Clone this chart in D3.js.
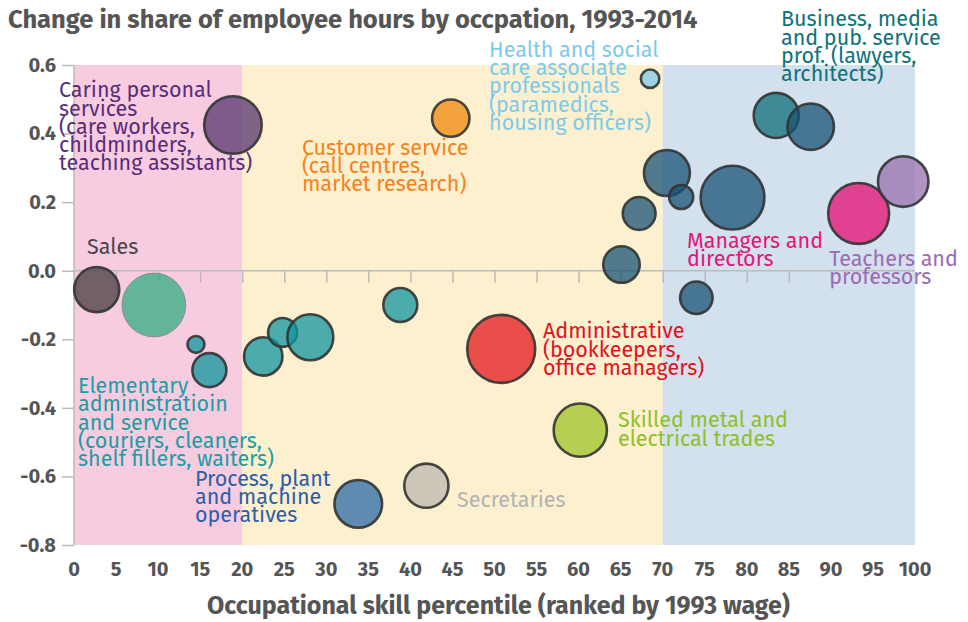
<!DOCTYPE html>
<html>
<head>
<meta charset="utf-8">
<script src="https://cdn.jsdelivr.net/npm/d3@7"></script>
<style>
  html, body { margin: 0; padding: 0; background: #fff; }
  svg { display: block; font-family: "Fira Sans", "Open Sans", sans-serif; }
</style>
</head>
<body>
<svg id="chart" width="968" height="622"></svg>
<script>
// ---- Data ----
const titleText = "Change in share of employee hours by occpation, 1993-2014";
const xAxisTitle = "Occupational skill percentile (ranked by 1993 wage)";
const xTicks = [0, 5, 10, 15, 20, 25, 30, 35, 40, 45, 50, 55, 60, 65, 70, 75, 80, 85, 90, 95, 100];
const yTicks = [0.6, 0.4, 0.2, 0.0, -0.2, -0.4, -0.6, -0.8];

// skill bands (percentile ranges)
const bandStart = [0, 20, 70];
const bandEnd = [20, 70, 100];
const bandColor = ["#f8cce0", "#fdf0cf", "#d3e0ed"];

// occupations: percentile, change in share, relative size (share of hours), colour group
const occGroup = ["sales", "green", "elem", "elem", "elem", "elem", "elem", "elem", "admin",
  "caring", "customer", "health", "business", "prof", "prof", "prof", "prof", "managers",
  "teachers", "prof", "prof", "prof", "process", "secretaries", "skilled"];
const occX = [2.7, 9.5, 14.5, 16.1, 22.5, 24.8, 28.1, 38.8, 50.8,
  18.9, 44.8, 68.5, 83.5, 87.6, 70.5, 72.2, 78.3, 93.3,
  98.6, 67.2, 65.1, 74.0, 33.8, 41.9, 60.2];
const occY = [-0.055, -0.10, -0.215, -0.29, -0.25, -0.18, -0.194, -0.10, -0.228,
  0.425, 0.445, 0.56, 0.453, 0.42, 0.285, 0.215, 0.213, 0.167,
  0.26, 0.167, 0.018, -0.079, -0.68, -0.627, -0.465];
const occSize = [5.1, 10.2, 0.72, 2.9, 3.7, 2.1, 5.3, 2.9, 11.6,
  8.3, 3.5, 0.85, 5.1, 5.4, 5.3, 1.45, 10.2, 9.3,
  6.4, 2.7, 3.35, 2.65, 5.7, 4.9, 7.1];

const groupNames = ["sales", "green", "elem", "admin", "caring", "customer", "health", "business", "prof", "managers", "teachers", "process", "secretaries", "skilled"];
const groupFill = ["#453c40", "#30ad80", "#0f959f", "#e1181d", "#573470", "#f0880b", "#7cc9e5", "#0c6d78", "#175375", "#e40d71", "#9870b0", "#2969a5", "#bdb8b0", "#9dc428"];

// annotation labels (anchor in data units: percentile, change)
const labelLines = [
  ["Caring personal", "services", "(care workers,", "childminders,", "teaching assistants)"],
  ["Customer service", "(call centres,", "market research)"],
  ["Health and social", "care associate", "professionals", "(paramedics,", "housing officers)"],
  ["Business, media", "and pub. service", "prof. (lawyers,", "architects)"],
  ["Sales"],
  ["Managers and", "directors"],
  ["Teachers and", "professors"],
  ["Administrative", "(bookkeepers,", "office managers)"],
  ["Elementary", "administratioin", "and service", "(couriers, cleaners,", "shelf fillers, waiters)"],
  ["Process, plant", "and machine", "operatives"],
  ["Secretaries"],
  ["Skilled metal and", "electrical trades"]
];
const labelAtX = [-1.78, 27.1, 49.35, 84.07, 1.55, 72.9, 89.8, 55.77, 0.48, 14.39, 45.54, 64.68];
const labelAtY = [0.506, 0.338, 0.624, 0.713, 0.0476, 0.067, 0.0134, -0.197, -0.357, -0.627, -0.688, -0.457];
const labelColor = ["#5a2d79", "#f58220", "#7dcbea", "#0e737b", "#4a4548", "#e5167a", "#9b6cb3", "#e3121f", "#1a9ea3", "#2e5fa7", "#b3b3b3", "#8dc02a"];

// ---- Chart ----
const svg = d3.select("#chart");
const x = d3.scaleLinear().domain([0, 100]).range([74, 915]);
const y = d3.scaleLinear().domain([-0.8, 0.6]).range([545, 65]);
const r = d3.scaleSqrt().domain([0, 11.6]).range([0, 34]);
const fill = d3.scaleOrdinal().domain(groupNames).range(groupFill);

// title
svg.append("text").attr("x", 8).attr("y", 28)
  .attr("font-size", 25.5).attr("font-weight", 700).attr("fill", "#555")
  .text(titleText);

// bands
svg.append("g").selectAll("rect").data(bandStart).join("rect")
  .attr("x", (d) => x(d))
  .attr("width", (d, i) => x(bandEnd[i]) - x(d))
  .attr("y", y(0.6)).attr("height", y(-0.8) - y(0.6))
  .attr("fill", (d, i) => bandColor[i]);

// y axis
const yAxis = svg.append("g").attr("transform", `translate(${x(0)},0)`)
  .call(d3.axisLeft(y).tickValues(yTicks).tickSize(12).tickPadding(6));
yAxis.select(".domain").attr("stroke", "#bbb").attr("stroke-width", 1.5).attr("d", `M0,${y(0.6)}V${y(-0.8)}`);
yAxis.selectAll(".tick line").attr("stroke", "#bbb").attr("stroke-width", 1.5);
yAxis.selectAll(".tick text").attr("font-size", 20).attr("font-weight", 700).attr("fill", "#555")
  .attr("font-family", "\"Fira Sans\", \"Open Sans\", sans-serif")
  .text((d) => d3.format(".1f")(d).replace("−", "-"));

// x axis at zero line with ticks hanging down
const xAxis = svg.append("g").attr("transform", `translate(0,${y(0)})`)
  .call(d3.axisBottom(x).tickValues(xTicks.filter((d) => d > 0 && d < 100)).tickSize(12).tickFormat(""));
xAxis.select(".domain").attr("stroke", "#bbb").attr("stroke-width", 1.5).attr("d", `M${x(0)},0H${x(100)}`);
xAxis.selectAll(".tick line").attr("stroke", "#bbb").attr("stroke-width", 1.5);

// x tick labels at bottom
svg.append("g").selectAll("text").data(xTicks).join("text")
  .attr("x", (d) => x(d)).attr("y", 576)
  .attr("text-anchor", "middle")
  .attr("font-size", 20).attr("font-weight", 700).attr("fill", "#555")
  .text((d) => d);

// x axis title
svg.append("text").attr("x", (x(0) + x(100)) / 2 + 4).attr("y", 614)
  .attr("text-anchor", "middle")
  .attr("font-size", 25).attr("font-weight", 700).attr("fill", "#555")
  .text(xAxisTitle);

// bubbles
svg.append("g").selectAll("circle").data(occX).join("circle")
  .attr("cx", (d) => x(d))
  .attr("cy", (d, i) => y(occY[i]))
  .attr("r", (d, i) => r(occSize[i]))
  .attr("fill", (d, i) => fill(occGroup[i]))
  .attr("fill-opacity", 0.75)
  .attr("stroke", (d, i) => occGroup[i] === "green" ? "#888" : "#333")
  .attr("stroke-width", (d, i) => occGroup[i] === "green" ? 1 : 2.6)
  .attr("stroke-opacity", 0.9);

// labels
const lg = svg.append("g");
labelLines.forEach((lines, i) => {
  const t = lg.append("text")
    .attr("x", x(labelAtX[i])).attr("y", y(labelAtY[i]))
    .attr("font-size", 21.5).attr("fill", labelColor[i]);
  lines.forEach((ln, j) => {
    t.append("tspan").attr("x", x(labelAtX[i])).attr("dy", j === 0 ? 0 : 18.3).text(ln);
  });
});
</script>
</body>
</html>
